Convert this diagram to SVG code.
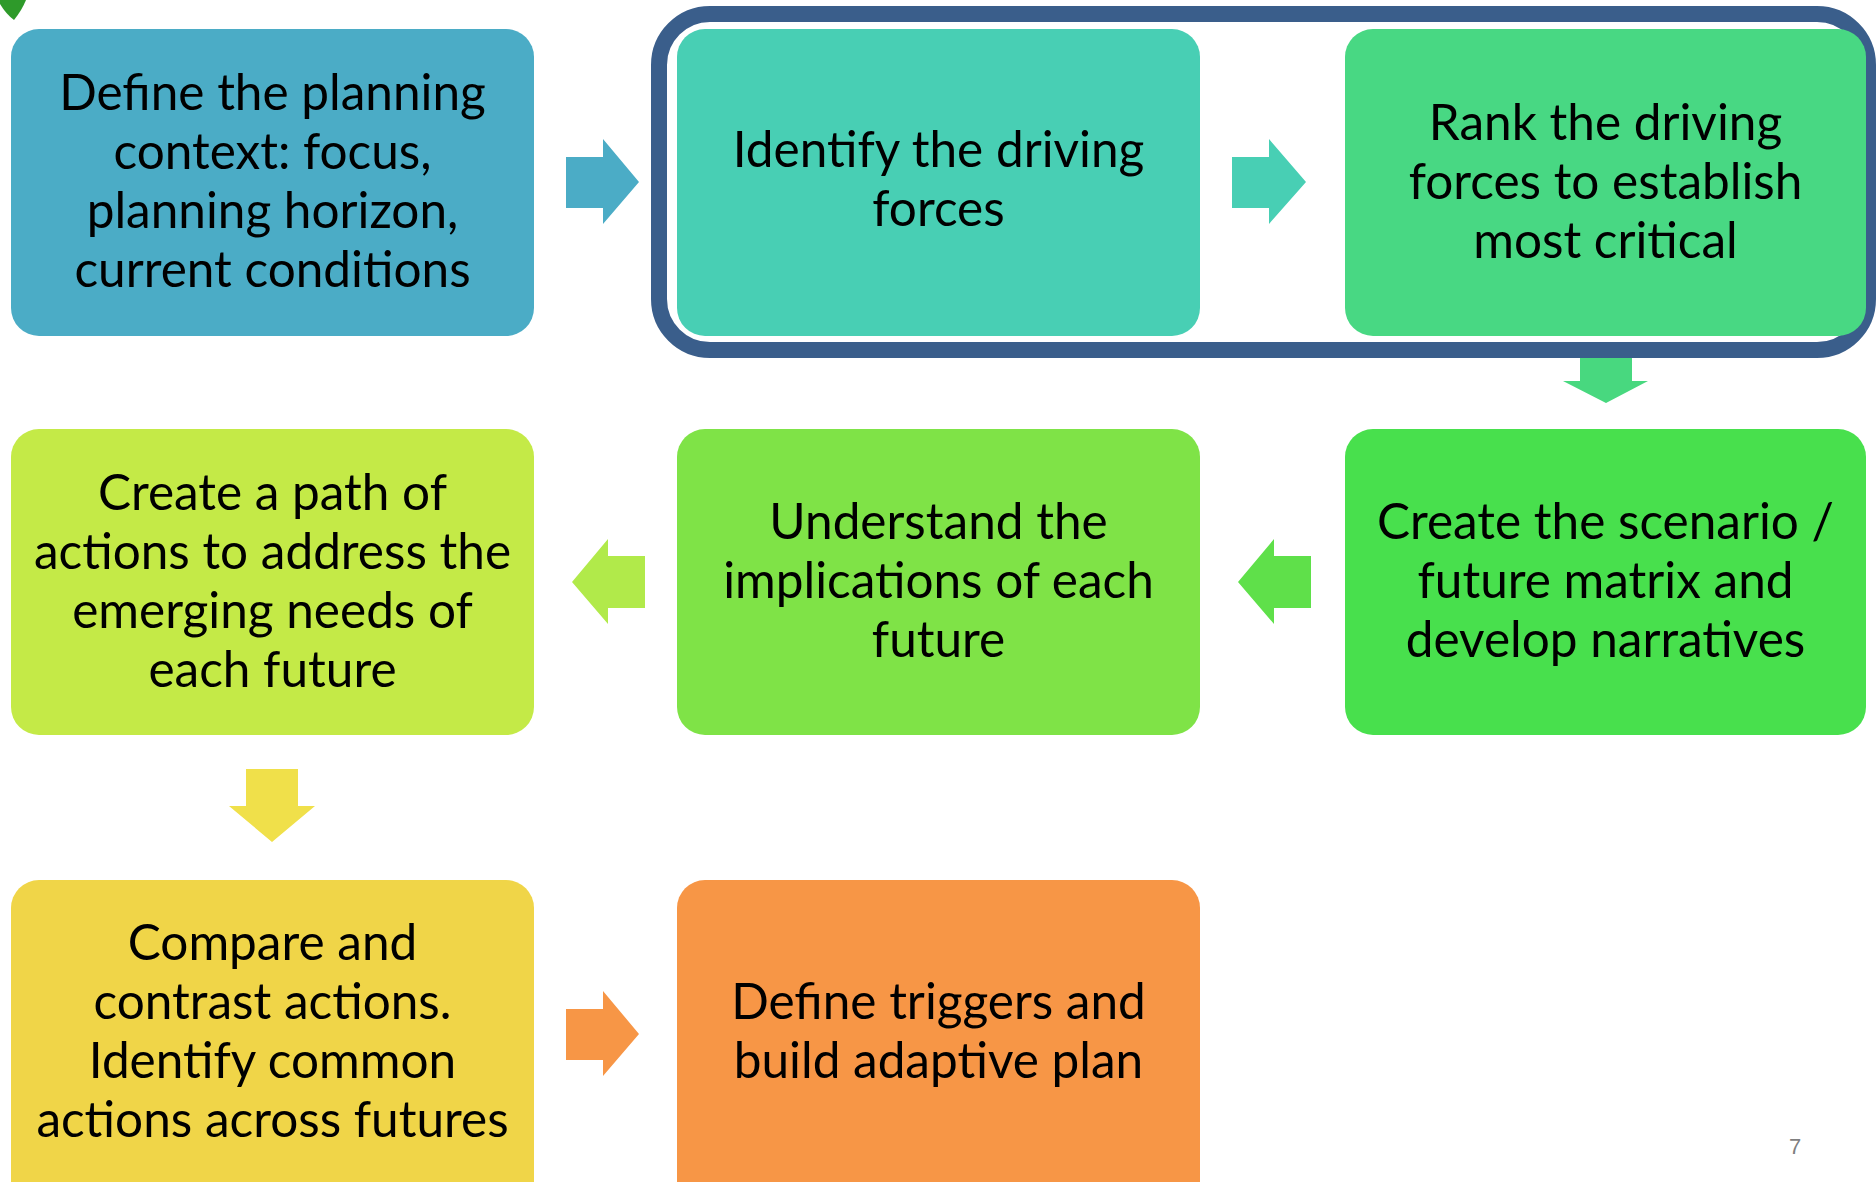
<svg xmlns="http://www.w3.org/2000/svg" width="1876" height="1182" viewBox="0 0 1876 1182">
<style>
.box{stroke:none}
.t{font-family:Lato,"Liberation Sans",sans-serif;font-size:49.5px;fill:#000;text-anchor:middle}
.pg{font-family:"Liberation Sans",sans-serif;font-size:22px;fill:#7f7f7f;text-anchor:middle}
</style>
<rect width="1876" height="1182" fill="#fff"/>
<path d="M0,0 L26,0 Q22,10 14,20 Q6,14 0,4 Z" fill="#2e9a2a"/>
<g id="connectors">
<polygon id="a1" points="566,157 603,157 603,139 639,182 603,224 603,208 566,208" fill="#4bacc6"/>
<polygon id="a2" points="1232,157 1269,157 1269,139 1306,182 1269,224 1269,208 1232,208" fill="#48cfb4"/>
<polygon id="a3" points="1580,345 1632,345 1632,381 1648,381 1606,403 1563,381 1580,381" fill="#48d87f"/>
<polygon id="a4" points="1311,556 1274,556 1274,539 1238,582 1274,624 1274,608 1311,608" fill="#5fe04a"/>
<polygon id="a5" points="645,556 608,556 608,539 572,582 608,624 608,608 645,608" fill="#b1ea4a"/>
<polygon id="a6" points="246,769 298,769 298,806 315,806 272,842 229,806 246,806" fill="#f0e04a"/>
<polygon id="a7" points="566,1009 603,1009 603,991 639,1034 603,1076 603,1060 566,1060" fill="#f79646"/>
</g>
<rect id="group-border" x="659" y="14" width="1209" height="336" rx="51" fill="none" stroke="#3a5e8b" stroke-width="16"/>
<g id="n1"><rect class="box" x="11" y="29" width="523" height="307" rx="28" fill="#4bacc6"/>
<text class="t"><tspan x="272.5" y="110">Define the planning</tspan><tspan x="272.5" y="169">context: focus,</tspan><tspan x="272.5" y="228">planning horizon,</tspan><tspan x="272.5" y="287">current conditions</tspan></text></g>
<g id="n2"><rect class="box" x="677" y="29" width="523" height="307" rx="28" fill="#48cfb4"/>
<text class="t"><tspan x="938.5" y="167">Identify the driving</tspan><tspan x="938.5" y="226">forces</tspan></text></g>
<g id="n3"><rect class="box" x="1345" y="29" width="521" height="307" rx="28" fill="#48d883"/>
<text class="t"><tspan x="1605.5" y="140">Rank the driving</tspan><tspan x="1605.5" y="199">forces to establish</tspan><tspan x="1605.5" y="258">most critical</tspan></text></g>
<g id="n4"><rect class="box" x="1345" y="429" width="521" height="306" rx="28" fill="#48e04d"/>
<text class="t"><tspan x="1605.5" y="539">Create the scenario /</tspan><tspan x="1605.5" y="598">future matrix and</tspan><tspan x="1605.5" y="657">develop narratives</tspan></text></g>
<g id="n5"><rect class="box" x="677" y="429" width="523" height="306" rx="28" fill="#7fe347"/>
<text class="t"><tspan x="938.5" y="539">Understand the</tspan><tspan x="938.5" y="598">implications of each</tspan><tspan x="938.5" y="657">future</tspan></text></g>
<g id="n6"><rect class="box" x="11" y="429" width="523" height="306" rx="28" fill="#c4ea47"/>
<text class="t"><tspan x="272.5" y="510">Create a path of</tspan><tspan x="272.5" y="569">actions to address the</tspan><tspan x="272.5" y="628">emerging needs of</tspan><tspan x="272.5" y="687">each future</tspan></text></g>
<g id="n7"><rect class="box" x="11" y="880" width="523" height="330" rx="28" fill="#f0d548"/>
<text class="t"><tspan x="272.5" y="960">Compare and</tspan><tspan x="272.5" y="1019">contrast actions.</tspan><tspan x="272.5" y="1078">Identify common</tspan><tspan x="272.5" y="1137">actions across futures</tspan></text></g>
<g id="n8"><rect class="box" x="677" y="880" width="523" height="330" rx="28" fill="#f79646"/>
<text class="t"><tspan x="938.5" y="1019">Define triggers and</tspan><tspan x="938.5" y="1078">build adaptive plan</tspan></text></g>
<text class="pg" x="1795" y="1154">7</text>
</svg>
